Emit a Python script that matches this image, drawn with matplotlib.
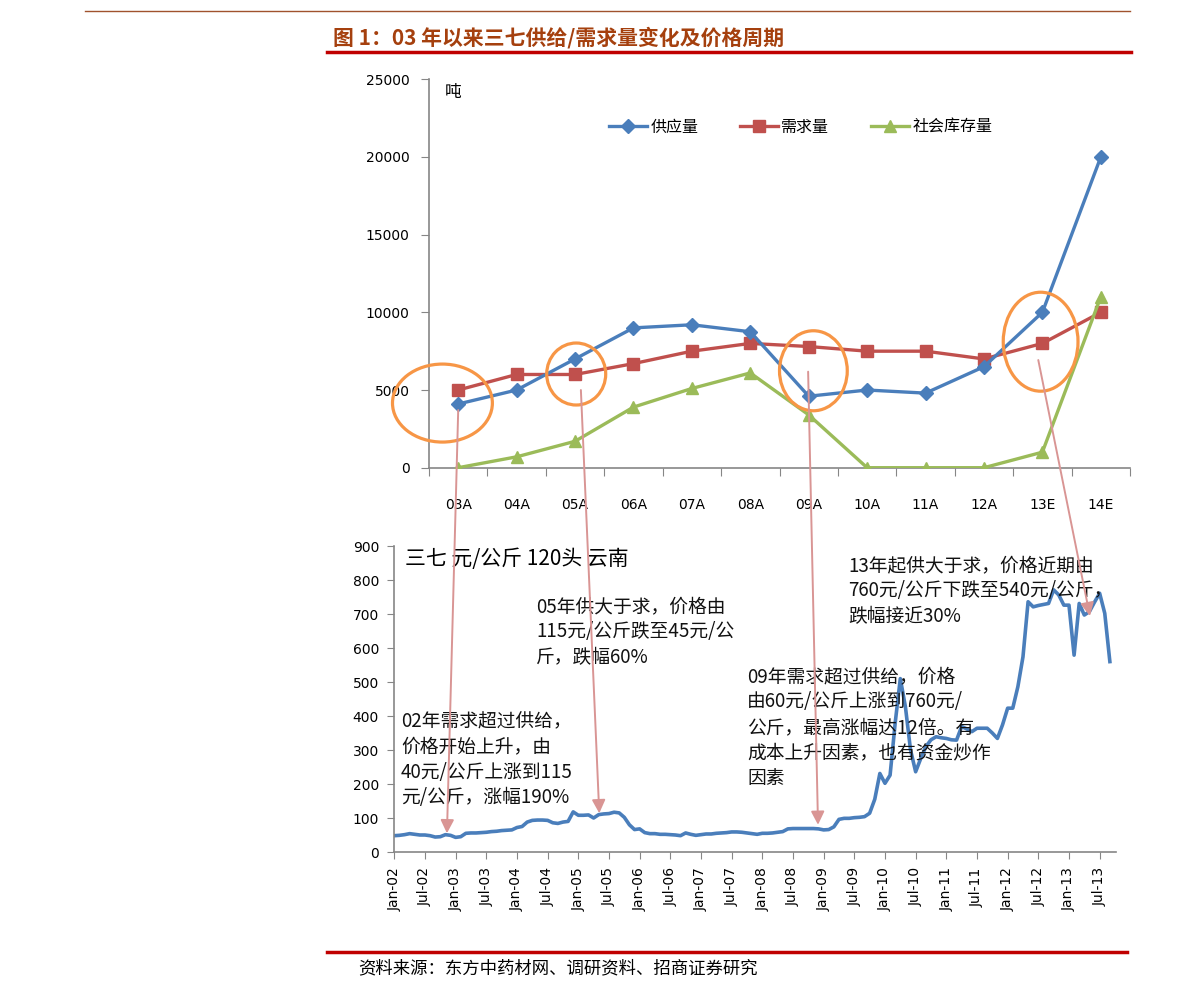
import numpy as np
import matplotlib
matplotlib.use('Agg')
import matplotlib.pyplot as plt
from matplotlib.patches import Ellipse, ConnectionPatch

plt.rcParams['font.family'] = ['DejaVu Sans', 'Noto Sans CJK SC']
CJK = ['Noto Sans CJK SC', 'DejaVu Sans']

W, H = 1191, 997


def fx(x):
    return x / W


def fy(y):
    return 1 - y / H


# upper chart: supply / demand / stock (tonnes)
years = ['03A', '04A', '05A', '06A', '07A', '08A', '09A', '10A', '11A', '12A', '13E', '14E']
supply = [4100, 5000, 7000, 9000, 9200, 8750, 4600, 5000, 4800, 6500, 10000, 20000]
demand = [5000, 6000, 6000, 6700, 7500, 8000, 7800, 7500, 7500, 7000, 8000, 10000]
stock = [0, 700, 1700, 3900, 5100, 6100, 3400, 0, 0, 0, 1000, 11000]

# lower chart: monthly price, yuan/kg, Jan-02 .. Oct-13
price = [48, 49, 51, 54, 52, 50, 50, 48, 44, 45, 51, 49,
         43, 45, 55, 56, 56, 57, 58, 60, 61, 63, 64, 65,
         72, 75, 88, 93, 94, 94, 93, 86, 84, 88, 90, 118,
         108, 108, 109, 100, 110, 112, 113, 117, 115, 102, 80, 66,
         68, 57, 54, 54, 52, 52, 51, 50, 48, 56, 52, 49,
         51, 53, 53, 55, 56, 57, 59, 59, 58, 56, 54, 52,
         55, 55, 56, 58, 60, 68, 69, 69, 69, 69, 69, 68,
         65, 66, 74, 96, 99, 99, 101, 102, 104, 114, 155, 231,
         202, 226, 380, 510, 427, 300, 236, 275, 310, 330, 339, 336,
         334, 330, 329, 369, 362, 354, 364, 364, 364, 350, 334, 374,
         423, 423, 486, 574, 736, 721, 725, 728, 731, 771, 756, 726,
         726, 579, 731, 697, 707, 735, 761, 702, 560]
month_labels = [f'{m}-{y:02d}' for y in range(2, 14) for m in ('Jan', 'Jul')]

BLUE = '#4A7EBB'
RED = '#C0504D'
GREEN = '#9BBB59'
ORANGE = '#F79646'
PINK = '#D99594'
GRAY = '#868686'

fig = plt.figure(figsize=(W / 100, H / 100), dpi=100)

# header lines and title
fig.add_artist(plt.Line2D([fx(85), fx(1130)], [fy(11), fy(11)], color='#A0522D', lw=1.0))
fig.add_artist(plt.Line2D([fx(327), fx(1131)], [fy(52), fy(52)], color='#C00000', lw=2.5))
fig.text(fx(333), fy(38), '图 1：03 年以来三七供给/需求量变化及价格周期', family=CJK,
         fontsize=15, fontweight='bold', color='#A5400E', va='center', ha='left')

# ---- upper chart
ax1 = fig.add_axes([fx(429), fy(467.7), (1130 - 429) / W, (467.7 - 79.3) / H])
x = np.arange(len(years))
ax1.plot(x, supply, color=BLUE, lw=2.4, marker='D', ms=7, label='供应量', zorder=4)
ax1.plot(x, demand, color=RED, lw=2.4, marker='s', ms=8, label='需求量', zorder=3)
ax1.plot(x, stock, color=GREEN, lw=2.4, marker='^', ms=9, label='社会库存量', zorder=3)
ax1.set_xlim(-0.5, 11.5)
ax1.set_ylim(0, 25000)
ax1.set_yticks(np.arange(0, 25001, 5000))
ax1.set_xticks(np.arange(-0.5, 12, 1))
ax1.set_xticklabels([])
ax1.set_xticks(x, minor=True)
ax1.set_xticklabels(years, minor=True)
ax1.tick_params(axis='x', which='minor', length=0, pad=22, labelsize=10)
ax1.tick_params(axis='x', which='major', length=6, color=GRAY)
ax1.tick_params(axis='y', length=6, color=GRAY, labelsize=10, pad=8)
for s in ('top', 'right'):
    ax1.spines[s].set_visible(False)
for s in ('left', 'bottom'):
    ax1.spines[s].set_color(GRAY)
    ax1.spines[s].set_linewidth(1.2)
ax1.text(0.022, 0.965, '吨', transform=ax1.transAxes, family=CJK, fontsize=12, va='center')
leg = ax1.legend(loc='center', bbox_to_anchor=(0.53, 0.877), ncol=3, frameon=False,
                 prop={'family': CJK, 'size': 11.5}, handlelength=2.4,
                 columnspacing=2.6, handletextpad=0.2)

# orange circles (in data units of the upper chart)
circles = [(-0.27, 4160, 1.71, 5020), (2.02, 6030, 1.01, 3990),
           (6.08, 6240, 1.16, 5150), (9.97, 8110, 1.28, 6370)]
for cx, cy, w, h in circles:
    ax1.add_patch(Ellipse((cx, cy), w, h, fill=False, ec=ORANGE, lw=2.3,
                          clip_on=False, zorder=5))

# ---- lower chart
ax2 = fig.add_axes([fx(394.3), fy(852), (1116 - 394.3) / W, (852 - 546) / H])
ax2.plot(np.arange(len(price)), price, color=BLUE, lw=2.6, solid_joinstyle='round')
ax2.set_xlim(0, 141.2)
ax2.set_ylim(0, 900)
ax2.set_yticks(np.arange(0, 901, 100))
ax2.set_xticks(np.arange(0, 6 * len(month_labels), 6))
ax2.set_xticklabels(month_labels, rotation=90)
ax2.tick_params(axis='x', length=5, color=GRAY, labelsize=10, pad=6)
ax2.tick_params(axis='y', length=5, color=GRAY, labelsize=10, pad=6)
for s in ('top', 'right'):
    ax2.spines[s].set_visible(False)
for s in ('left', 'bottom'):
    ax2.spines[s].set_color(GRAY)
    ax2.spines[s].set_linewidth(1.2)

# arrows from circles down to the price line
links = [((0, 3710), (10.3, 55)), ((2.1, 5000), (40.1, 114)),
         ((5.99, 6180), (82.9, 80)), ((9.93, 6930), (136.1, 694))]
for a, b in links:
    con = ConnectionPatch(xyA=a, coordsA=ax1.transData, xyB=b, coordsB=ax2.transData,
                          arrowstyle='-|>', color=PINK, lw=1.4, mutation_scale=20,
                          shrinkA=0, shrinkB=0, zorder=6)
    fig.add_artist(con)

# annotation texts
ann_kw = dict(family=CJK, fontsize=13.5, va='top', ha='left', linespacing=1.28, color='#111111')
fig.text(fx(405), fy(548), '三七 元/公斤 120头 云南', family=CJK, fontsize=15,
         va='top', ha='left')
fig.text(fx(401), fy(711), '02年需求超过供给，\n价格开始上升，由\n40元/公斤上涨到115\n元/公斤，涨幅190%', **ann_kw)
fig.text(fx(536), fy(596), '05年供大于求，价格由\n115元/公斤跌至45元/公\n斤，跌幅60%', **ann_kw)
fig.text(fx(747), fy(666), '09年需求超过供给，价格\n由60元/公斤上涨到760元/\n公斤，最高涨幅达12倍。有\n成本上升因素，也有资金炒作\n因素', **ann_kw)
fig.text(fx(848), fy(555), '13年起供大于求，价格近期由\n760元/公斤下跌至540元/公斤，\n跌幅接近30%', **ann_kw)

# footer
fig.add_artist(plt.Line2D([fx(327), fx(1127)], [fy(952), fy(952)], color='#C00000', lw=2.5))
fig.text(fx(358), fy(968), '资料来源：东方中药材网、调研资料、招商证券研究', family=CJK,
         fontsize=12.5, va='center', ha='left')

fig.savefig('out.png', dpi=100)
